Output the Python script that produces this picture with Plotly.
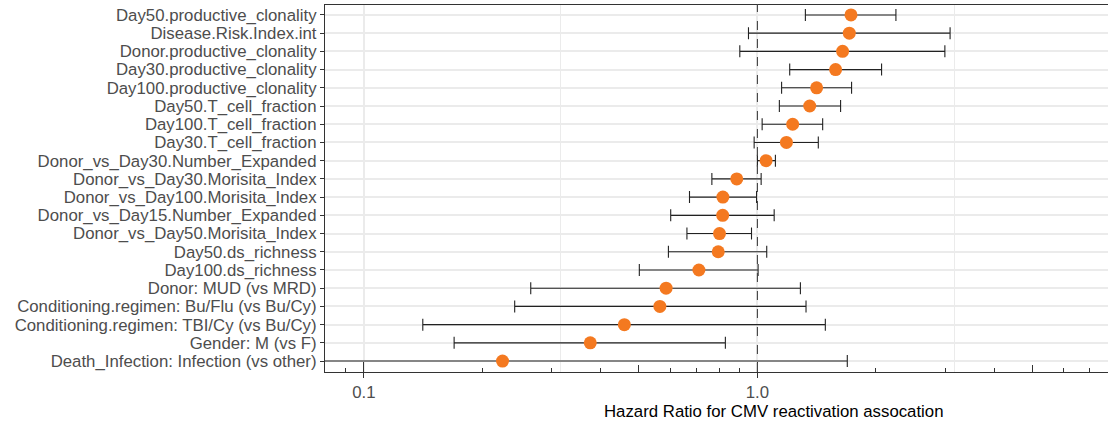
import math
import plotly.graph_objects as go

variables = [
    "Day50.productive_clonality",
    "Disease.Risk.Index.int",
    "Donor.productive_clonality",
    "Day30.productive_clonality",
    "Day100.productive_clonality",
    "Day50.T_cell_fraction",
    "Day100.T_cell_fraction",
    "Day30.T_cell_fraction",
    "Donor_vs_Day30.Number_Expanded",
    "Donor_vs_Day30.Morisita_Index",
    "Donor_vs_Day100.Morisita_Index",
    "Donor_vs_Day15.Number_Expanded",
    "Donor_vs_Day50.Morisita_Index",
    "Day50.ds_richness",
    "Day100.ds_richness",
    "Donor: MUD (vs MRD)",
    "Conditioning.regimen: Bu/Flu (vs Bu/Cy)",
    "Conditioning.regimen: TBI/Cy (vs Bu/Cy)",
    "Gender: M (vs F)",
    "Death_Infection: Infection (vs other)",
]
hazard_ratio = [1.729, 1.712, 1.646, 1.580, 1.414, 1.358, 1.229, 1.185, 1.052, 0.886,
                0.817, 0.816, 0.801, 0.795, 0.710, 0.586, 0.565, 0.459, 0.376, 0.225]
ci_lower = [1.324, 0.949, 0.902, 1.208, 1.152, 1.137, 1.028, 0.981, 1.000, 0.766,
            0.672, 0.602, 0.662, 0.594, 0.501, 0.2654, 0.2416, 0.1411, 0.1695, 0.03]
ci_upper = [2.249, 3.088, 2.995, 2.068, 1.735, 1.627, 1.465, 1.428, 1.111, 1.022,
            0.995, 1.103, 0.966, 1.056, 1.004, 1.286, 1.329, 1.488, 0.829, 1.692]

major_ticks = [0.1, 1.0]
major_labels = ["0.1", "1.0"]
log_minor = [0.09, 0.2, 0.3, 0.4, 0.6, 0.7, 0.8, 0.9, 2, 3, 4, 6, 7, 8, 9]
log_mid = [0.05, 0.5, 5]
log_long = [0.1, 1, 10]
minor_grid = [10 ** -0.5, 10 ** 0.5]

x_range = [-1.099, 0.891]
FONT = "Liberation Sans, Arial, Helvetica, sans-serif"
GRID = "#ebebeb"
AXIS = "#333333"
TXT = 16.8

fig = go.Figure()

fig.add_trace(go.Scatter(
    x=hazard_ratio, y=variables, mode="markers",
    marker=dict(color="#F47920", size=13, line=dict(width=0)),
    error_x=dict(type="data", symmetric=False,
                 array=[u - h for u, h in zip(ci_upper, hazard_ratio)],
                 arrayminus=[h - l for h, l in zip(hazard_ratio, ci_lower)],
                 color="#222222", thickness=1.1, width=6),
    showlegend=False, hoverinfo="skip",
))

# invisible traces to attach tick-only overlay axes
for ax in ["x2", "x3", "x4", "x5"]:
    fig.add_trace(go.Scatter(x=[1], y=[variables[0]], xaxis=ax, yaxis="y",
                             mode="markers", marker=dict(opacity=0),
                             showlegend=False, hoverinfo="skip"))

fig.add_vline(x=1.0, line=dict(color="#444444", width=1.1, dash="dash"))

common = dict(type="log", range=x_range, anchor="y", showgrid=False,
              zeroline=False, showline=False, showticklabels=False,
              tickmode="array", overlaying="x")

fig.update_layout(
    width=1108, height=424,
    margin=dict(l=325, r=0, t=4, b=52),
    paper_bgcolor="white", plot_bgcolor="white",
    font=dict(family=FONT, color="#4d4d4d", size=TXT),
    xaxis=dict(
        type="log", range=x_range,
        tickmode="array", tickvals=major_ticks, ticktext=major_labels,
        ticks="outside", ticklen=5, tickcolor=AXIS, tickwidth=1.2,
        tickfont=dict(size=TXT, color="#4d4d4d"),
        showgrid=True, gridcolor=GRID, gridwidth=1.6,
        minor=dict(tickmode="array", tickvals=minor_grid, showgrid=True,
                   gridcolor=GRID, gridwidth=1, ticks=""),
        showline=True, linecolor=AXIS, linewidth=1.2, mirror=False,
        zeroline=False,
    ),
    xaxis2=dict(common, tickvals=log_minor, ticks="inside", ticklen=4,
                tickcolor=AXIS, tickwidth=1),
    xaxis3=dict(common, tickvals=log_mid, ticks="inside", ticklen=7,
                tickcolor=AXIS, tickwidth=1),
    xaxis4=dict(common, tickvals=log_long, ticks="inside", ticklen=10,
                tickcolor=AXIS, tickwidth=1.2),
    xaxis5=dict(type="log", range=x_range, anchor="free", position=1,
                overlaying="x", side="top", showline=True, linecolor=AXIS,
                linewidth=1.2, ticks="", showticklabels=False, showgrid=False,
                zeroline=False),
    yaxis=dict(
        type="category", categoryorder="array", categoryarray=variables,
        tickmode="array", tickvals=variables, ticktext=variables,
        range=[len(variables) - 0.4, -0.6],
        ticks="outside", ticklen=4, tickcolor=AXIS, tickwidth=1.2,
        tickfont=dict(size=TXT, color="#4d4d4d"),
        showgrid=True, gridcolor=GRID, gridwidth=2,
        showline=True, linecolor=AXIS, linewidth=1.2, zeroline=False,
    ),
)

fig.add_annotation(
    text="Hazard Ratio for CMV reactivation assocation",
    xref="paper", yref="paper", x=0.574, y=0, yshift=-28,
    xanchor="center", yanchor="top", showarrow=False,
    font=dict(family=FONT, size=TXT, color="black"),
)

fig.write_html("out.html")
